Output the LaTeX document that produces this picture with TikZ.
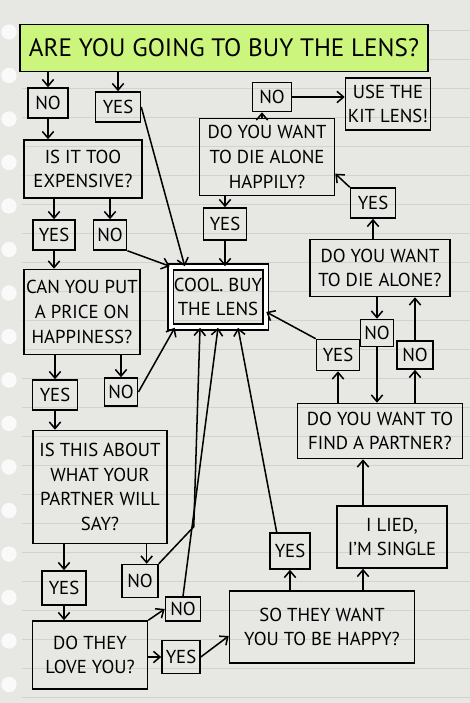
\documentclass[tikz,border=0pt]{standalone}
\usepackage{fontspec}
\setmainfont{PT Sans}
\usepackage{xcolor}
\usetikzlibrary{positioning, arrows.meta}

\definecolor{paper}{RGB}{231,231,228}
\definecolor{ruling}{RGB}{210,210,207}
\definecolor{lensgreen}{RGB}{204,245,125}

\begin{document}
\begin{tikzpicture}[x=0.3mm, y=-0.3mm,
    box/.style = {draw, line width=1.3pt, align=center, inner sep=2pt, font=\fontsize{16}{21}\selectfont},
    ans/.style = {box, minimum width=12mm, minimum height=9mm},
    arr/.style = {line width=1.3pt, -{Straight Barb[length=2mm, width=3.4mm]}}]
    % paper
    \fill[paper] (0,0) rectangle (470,703);
    \useasboundingbox (0,0) rectangle (470,703);
    \foreach \y in {30,59,...,697}
        \draw[ruling, line width=0.6pt] (22,\y) -- (470,\y);
    \foreach \y in {32,75.5,...,690}
        \fill[white!80!paper] (9,\y) circle [radius=2.3mm];

    % question boxes
    \node[box, fill=lensgreen, minimum width=122.4mm, minimum height=14.1mm, font=\fontsize{21.5}{24}\selectfont] (q0) at (224,48) {ARE YOU GOING TO BUY THE LENS?};
    \node[box, minimum width=35.4mm, minimum height=17.4mm] (qexp) at (83,169) {IS IT TOO\\EXPENSIVE?};
    \node[box, minimum width=34.5mm, minimum height=25.5mm] (qprice) at (82,312) {CAN YOU PUT\\A PRICE ON\\HAPPINESS?};
    \node[box, minimum width=40.2mm, minimum height=33.9mm] (qpartner) at (100,487) {IS THIS ABOUT\\WHAT YOUR\\PARTNER WILL\\SAY?};
    \node[box, minimum width=34.5mm, minimum height=20.4mm] (qlove) at (90,655) {DO THEY\\LOVE YOU?};
    \node[box, minimum width=55.5mm, minimum height=21.6mm] (qhappy) at (322,627) {SO THEY WANT\\YOU TO BE HAPPY?};
    \node[box, minimum width=33mm, minimum height=18.6mm] (single) at (392,537) {I LIED,\\I'M SINGLE};
    \node[box, minimum width=49.5mm, minimum height=16.5mm] (qfind) at (380,431) {DO YOU WANT TO\\FIND A PARTNER?};
    \node[box, minimum width=42mm, minimum height=17.1mm] (qalone) at (380,268) {DO YOU WANT\\TO DIE ALONE?};
    \node[box, minimum width=40.5mm, minimum height=23.1mm] (qhappily) at (267,157) {DO YOU WANT\\TO DIE ALONE\\HAPPILY?};
    \node[box, minimum width=25.5mm, minimum height=15.6mm] (kit) at (388,104) {USE THE\\KIT LENS!};
    \node[box, double, double distance=1.2mm, minimum width=28.5mm, minimum height=18mm] (buy) at (218,297) {COOL. BUY\\THE LENS};

    % answers
    \node[ans] (no1) at (48,103) {NO};
    \node[ans, minimum width=13.5mm] (yes1) at (118,107) {YES};
    \node[ans, minimum width=12.6mm] (yes2) at (54,235) {YES};
    \node[ans, minimum width=10mm] (no2) at (110,235) {NO};
    \node[ans, minimum width=13.5mm] (yes3) at (55,395) {YES};
    \node[ans, minimum width=10mm, minimum height=8.4mm] (no3) at (121,392) {NO};
    \node[ans, minimum width=13.2mm, minimum height=10.2mm] (yes4) at (64,588) {YES};
    \node[ans, minimum width=10.8mm, minimum height=9.9mm] (no4) at (140,581) {NO};
    \node[ans, minimum width=10.5mm, minimum height=7.2mm] (no5) at (183,609) {NO};
    \node[ans, minimum width=11.4mm, minimum height=9.9mm] (yes5) at (181,657) {YES};
    \node[ans, minimum width=12mm, minimum height=10.8mm] (yes6) at (290,551) {YES};
    \node[ans, minimum width=12.9mm, minimum height=9.3mm] (yes7) at (338,355) {YES};
    \node[ans, minimum width=10mm, minimum height=8.1mm] (no6) at (377,333) {NO};
    \node[ans, minimum width=10.8mm, minimum height=8.4mm] (no7) at (415,355) {NO};
    \node[ans, minimum width=13.5mm] (yes8) at (373,203) {YES};
    \node[ans, minimum width=11.7mm, minimum height=8.7mm] (no8) at (272,97) {NO};
    \node[ans, minimum width=12.9mm, minimum height=9.6mm] (yes9) at (225,224) {YES};

    % left column
    \draw[arr] (q0.south -| no1) -- (no1);
    \draw[arr] (q0.south -| yes1) -- (yes1);
    \draw[arr] (no1) -- (no1 |- qexp.north);
    \draw[arr] (yes1.east) -- ([xshift=4.5mm]buy.north west);
    \draw[arr] (qexp.south -| yes2) -- (yes2);
    \draw[arr] (qexp.south -| no2) -- (no2);
    \draw[arr] (no2.south east) -- (buy.north west);
    \draw[arr] (yes2) -- (yes2 |- qprice.north);
    \draw[arr] (qprice.south -| yes3) -- (yes3);
    \draw[arr] (qprice.south -| no3) -- (no3);
    \draw[arr] (no3.east) -- ([xshift=1.5mm]buy.south west);
    \draw[arr] (yes3) -- (yes3 |- qpartner.north);
    \draw[arr] (qpartner.south -| yes4) -- (yes4);
    \draw[arr] ([xshift=2mm]qpartner.south -| no4) -- ([xshift=2mm]no4.north);
    \draw[arr] (no4.north east) -- ++(35,-37) -- ([xshift=-5.4mm]buy.south);
    \draw[arr] (yes4) -- (yes4 |- qlove.north);
    \draw[arr] (qlove.north east) -- (no5.west);
    \draw[arr] (qlove.east |- yes5) -- (yes5.west);
    \draw[arr] (no5.north) -- (buy.south);
    \draw[arr] (yes5.east) -- ([yshift=-2.7mm]qhappy.west);

    % right column
    \draw[arr] (qhappy.north -| yes6) -- (yes6);
    \draw[arr] ([xshift=-4mm]yes6.north) -- ([xshift=6mm]buy.south);
    \draw[arr] ([xshift=-8.7mm]single.south |- qhappy.north) -- ([xshift=-8.7mm]single.south);
    \draw[arr] ([xshift=-8.7mm]single.north) -- ([xshift=-8.7mm]single.north |- qfind.south);
    \draw[arr] (qfind.north -| yes7) -- (yes7);
    \draw[arr] (qfind.north -| no7) -- (no7);
    \draw[arr] (yes7.north west) -- ([yshift=-4.5mm]buy.east);
    \draw[arr] (qalone.south -| no6) -- (no6);
    \draw[arr] (no6) -- (no6 |- qfind.north);
    \draw[arr] (no7) -- (no7 |- qalone.south);
    \draw[arr] (qalone.north -| yes8) -- (yes8);
    \draw[arr] (yes8.north west) -- ([yshift=-5mm]qhappily.east);
    \draw[arr] ([xshift=-3mm]no8.south |- qhappily.north) -- ([xshift=-3mm]no8.south);
    \draw[arr] (no8.east) -- (no8.east -| kit.west);
    \draw[arr] (qhappily.south -| yes9) -- (yes9);
    \draw[arr] (yes9) -- (yes9 |- buy.north);
\end{tikzpicture}
\end{document}
